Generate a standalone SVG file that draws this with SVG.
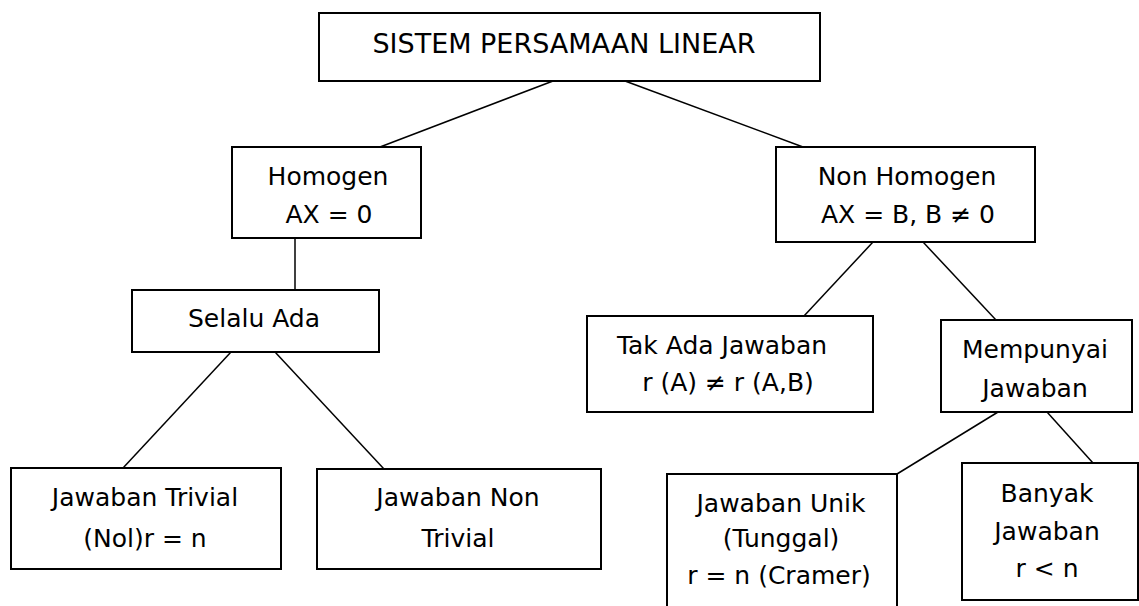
<svg xmlns="http://www.w3.org/2000/svg" width="1139" height="606" viewBox="0 0 1139 606">
<style>
.box{fill:#fff;stroke:#000;stroke-width:2}
.t{font-family:"DejaVu Sans","Liberation Sans",sans-serif;font-size:25px;fill:#000;text-anchor:middle}
.title{font-size:27px}
.c line{stroke:#000;stroke-width:1.5}
</style>
<rect width="1139" height="606" fill="#fff"/>
<g class="c" id="connectors">
<line x1="553" y1="81" x2="380" y2="147"/>
<line x1="625" y1="81" x2="803" y2="147"/>
<line x1="295" y1="238" x2="295" y2="290"/>
<line x1="231" y1="352" x2="123" y2="468"/>
<line x1="275" y1="352" x2="384" y2="469"/>
<line x1="873" y1="242" x2="804" y2="316"/>
<line x1="923" y1="242" x2="996" y2="320"/>
<line x1="998" y1="412" x2="897" y2="474"/>
<line x1="1047" y1="412" x2="1093" y2="463"/>
</g>
<g id="n-root">
<rect class="box" x="319" y="13" width="501" height="68"/>
<text class="t title" x="564" y="53">SISTEM PERSAMAAN LINEAR</text>
</g>
<g id="n-homogen">
<rect class="box" x="232" y="147" width="189" height="91"/>
<text class="t" x="328" y="185">Homogen</text>
<text class="t" x="329" y="223">AX = 0</text>
</g>
<g id="n-nonhomogen">
<rect class="box" x="776" y="147" width="259" height="95"/>
<text class="t" x="907" y="185">Non Homogen</text>
<text class="t" x="908" y="223">AX = B, B ≠ 0</text>
</g>
<g id="n-selalu">
<rect class="box" x="132" y="290" width="247" height="62"/>
<text class="t" x="254" y="327">Selalu Ada</text>
</g>
<g id="n-takada">
<rect class="box" x="587" y="316" width="286" height="96"/>
<text class="t" x="722" y="354">Tak Ada Jawaban</text>
<text class="t" x="728" y="391">r (A) ≠ r (A,B)</text>
</g>
<g id="n-mempunyai">
<rect class="box" x="941" y="320" width="191" height="92"/>
<text class="t" x="1035" y="358">Mempunyai</text>
<text class="t" x="1035" y="397">Jawaban</text>
</g>
<g id="n-trivial">
<rect class="box" x="11" y="468" width="270" height="101"/>
<text class="t" x="145" y="506">Jawaban Trivial</text>
<text class="t" x="145" y="547">(Nol)r = n</text>
</g>
<g id="n-nontrivial">
<rect class="box" x="317" y="469" width="284" height="100"/>
<text class="t" x="458" y="506">Jawaban Non</text>
<text class="t" x="458" y="547">Trivial</text>
</g>
<g id="n-unik">
<rect class="box" x="667" y="474" width="230" height="146"/>
<text class="t" x="781" y="512">Jawaban Unik</text>
<text class="t" x="781" y="547">(Tunggal)</text>
<text class="t" x="779" y="584">r = n (Cramer)</text>
</g>
<g id="n-banyak">
<rect class="box" x="962" y="463" width="176" height="137"/>
<text class="t" x="1047" y="502">Banyak</text>
<text class="t" x="1047" y="540">Jawaban</text>
<text class="t" x="1047" y="577">r &lt; n</text>
</g>
</svg>
